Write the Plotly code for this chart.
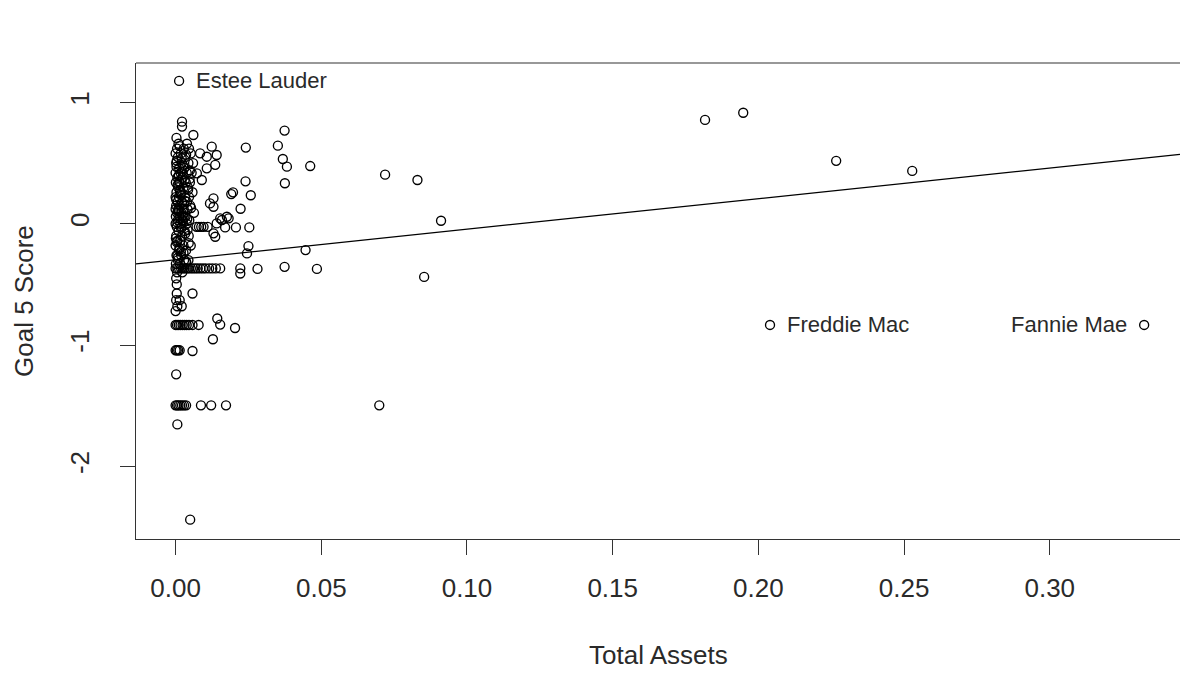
import plotly.graph_objects as go

# ---- data ----
total_assets = [
    # dense column near zero
    0.0022, 0.0022, 0.0061, 0.0003, 0.0010, 0.0039, 0.0005, 0.0028, 0.0046,
    0.0000, 0.0018, 0.0052, 0.0008, 0.0033, 0.0002, 0.0021, 0.0044, 0.0060,
    0.0012, 0.0030, 0.0000, 0.0017, 0.0038, 0.0055, 0.0006, 0.0024,
    0.0001, 0.0013, 0.0035, 0.0049, 0.0009, 0.0027, 0.0042, 0.0003, 0.0019, 0.0058,
    0.0000, 0.0011, 0.0032, 0.0046, 0.0007, 0.0022, 0.0039, 0.0002, 0.0015, 0.0050,
    0.0000, 0.0009, 0.0028, 0.0041, 0.0005, 0.0020, 0.0063, 0.0001, 0.0013, 0.0034,
    0.0008, 0.0025, 0.0047, 0.0000, 0.0016, 0.0038,
    0.0004, 0.0020, 0.0072, 0.0080, 0.0088, 0.0096, 0.0110,
    0.0010, 0.0031, 0.0002, 0.0022, 0.0045, 0.0006, 0.0016,
    0.0000, 0.0027, 0.0052, 0.0012, 0.0036, 0.0003, 0.0019,
    0.0008, 0.0029, 0.0044, 0.0001, 0.0015,
    0.0000, 0.0006, 0.0012, 0.0019, 0.0025, 0.0031, 0.0038, 0.0044, 0.0052,
    0.0060, 0.0068, 0.0076, 0.0085, 0.0094, 0.0103, 0.0115, 0.0126, 0.0138,
    0.0005, 0.0023, 0.0002, 0.0004, 0.0004, 0.0058, 0.0002, 0.0014, 0.0006, 0.0021, 0.0000,
    0.0000, 0.0005, 0.0011, 0.0017, 0.0024, 0.0031, 0.0038, 0.0046, 0.0058, 0.0079,
    0.0000, 0.0004, 0.0009, 0.0014, 0.0058,
    0.0002,
    0.0000, 0.0005, 0.0010, 0.0016, 0.0022, 0.0029, 0.0036, 0.0087, 0.0122, 0.0173,
    0.0006, 0.0050,
    # extra overlapping points inside the dense column
    0.0014, 0.0036, 0.0004, 0.0026, 0.0049, 0.0011, 0.0031, 0.0007, 0.0043, 0.0017,
    0.0002, 0.0029, 0.0053, 0.0010, 0.0024, 0.0040, 0.0006, 0.0019, 0.0033, 0.0001,
    0.0045, 0.0013, 0.0027, 0.0008, 0.0037, 0.0021, 0.0003, 0.0048, 0.0015, 0.0032,
    0.0009, 0.0025, 0.0041, 0.0004, 0.0018, 0.0035, 0.0012, 0.0028, 0.0006, 0.0022,
    # spread near the cluster
    0.0124, 0.0141, 0.0107, 0.0084, 0.0136, 0.0107, 0.0090, 0.0073,
    0.0118, 0.0130, 0.0130, 0.0176, 0.0153, 0.0141, 0.0159, 0.0130, 0.0136,
    0.0143, 0.0153, 0.0204, 0.0128,
    0.0374, 0.0241, 0.0351, 0.0368, 0.0382, 0.0462, 0.0375, 0.0719, 0.0830, 0.0911,
    0.0240, 0.0258, 0.0191, 0.0197, 0.0223, 0.0182, 0.0207, 0.0253, 0.0170,
    0.0250, 0.0245, 0.0446, 0.0374, 0.0485, 0.0281, 0.0222, 0.0222, 0.0853, 0.0153,
    # far points
    0.0012, 0.1817, 0.1948, 0.2267, 0.2528, 0.2040, 0.3324, 0.0699,
]
goal5_score = [
    0.842, 0.801, 0.732, 0.708, 0.66, 0.66, 0.62, 0.62, 0.62,
    0.58, 0.58, 0.58, 0.55, 0.55, 0.50, 0.50, 0.50, 0.50,
    0.46, 0.46, 0.42, 0.42, 0.42, 0.42, 0.38, 0.38,
    0.34, 0.34, 0.34, 0.34, 0.30, 0.30, 0.30, 0.26, 0.26, 0.26,
    0.22, 0.22, 0.22, 0.22, 0.18, 0.18, 0.18, 0.15, 0.15, 0.15,
    0.12, 0.12, 0.12, 0.12, 0.09, 0.09, 0.09, 0.06, 0.06, 0.06,
    0.03, 0.03, 0.03, 0.00, 0.00, 0.00,
    -0.025, -0.025, -0.025, -0.025, -0.025, -0.025, -0.025,
    -0.06, -0.06, -0.10, -0.10, -0.10, -0.14, -0.14,
    -0.18, -0.18, -0.18, -0.22, -0.22, -0.26, -0.26,
    -0.30, -0.30, -0.30, -0.33, -0.33,
    -0.368, -0.368, -0.368, -0.368, -0.368, -0.368, -0.368, -0.368, -0.368,
    -0.368, -0.368, -0.368, -0.368, -0.368, -0.368, -0.368, -0.368, -0.368,
    -0.40, -0.40, -0.45, -0.50, -0.575, -0.575, -0.63, -0.63, -0.68, -0.68, -0.72,
    -0.834, -0.834, -0.834, -0.834, -0.834, -0.834, -0.834, -0.834, -0.834, -0.834,
    -1.043, -1.043, -1.043, -1.043, -1.049,
    -1.241,
    -1.497, -1.497, -1.497, -1.497, -1.497, -1.497, -1.497, -1.497, -1.497, -1.497,
    -1.654, -2.439,
    0.64, 0.57, 0.52, 0.48, 0.44, 0.40, 0.36, 0.32, 0.28, 0.24,
    0.20, 0.16, 0.13, 0.10, 0.07, 0.04, 0.01, -0.04, -0.08, -0.12,
    -0.16, -0.20, -0.24, -0.28, -0.32, 0.54, 0.47, 0.37, 0.27, 0.19,
    0.11, 0.02, -0.05, -0.15, -0.23, -0.31, 0.35, 0.05, -0.26, 0.43,
    0.636, 0.567, 0.553, 0.581, 0.486, 0.457, 0.361, 0.416,
    0.168, 0.140, 0.210, 0.058, 0.045, 0.003, 0.031, -0.079, -0.107,
    -0.781, -0.831, -0.859, -0.952,
    0.768, 0.628, 0.644, 0.534, 0.471, 0.476, 0.334, 0.405, 0.361, 0.025,
    0.350, 0.235, 0.245, 0.259, 0.124, 0.045, -0.030, -0.030, -0.030,
    -0.184, -0.244, -0.217, -0.355, -0.372, -0.372, -0.368, -0.410, -0.438, -0.368,
    1.178, 0.856, 0.915, 0.519, 0.436, -0.834, -0.834, -1.497,
]

label_names = ["Estee Lauder", "Freddie Mac", "Fannie Mae"]
label_x = [0.0012, 0.2040, 0.3324]
label_y = [1.178, -0.834, -0.834]
label_side = ["right", "right", "left"]

fit_intercept = -0.297
fit_slope = 2.52

x_range = [-0.01359, 0.3447]
y_range = [-2.5986, 1.3254]
x_ticks = [0.00, 0.05, 0.10, 0.15, 0.20, 0.25, 0.30]
y_ticks = [-2, -1, 0, 1]

FONT = "Liberation Sans, Arial, sans-serif"
TXT = "#2a2a2a"

fig = go.Figure()
fig.add_trace(go.Scatter(
    x=total_assets, y=goal5_score, mode="markers",
    marker=dict(symbol="circle-open", size=9, color="black", line=dict(width=1.35, color="black")),
    hoverinfo="x+y", showlegend=False, cliponaxis=True,
))
fig.add_trace(go.Scatter(
    x=x_range, y=[fit_intercept + fit_slope * v for v in x_range],
    mode="lines", line=dict(color="black", width=1.2), showlegend=False, hoverinfo="skip",
))

for name, lx, ly, side in zip(label_names, label_x, label_y, label_side):
    fig.add_annotation(
        x=lx, y=ly, xref="x", yref="y", text=name, showarrow=False,
        xanchor="left" if side == "right" else "right", yanchor="middle",
        xshift=15 if side == "right" else -15,
        font=dict(family=FONT, size=22, color=TXT),
    )

fig.add_annotation(text="Total Assets", xref="paper", yref="paper", x=0.5, y=0,
                   yshift=-116, xanchor="center", yanchor="middle", showarrow=False,
                   font=dict(family=FONT, size=26, color=TXT))
fig.add_annotation(text="Goal 5 Score", xref="paper", yref="paper", x=0, y=0.5,
                   xshift=-112, xanchor="center", yanchor="middle", textangle=-90,
                   showarrow=False, font=dict(family=FONT, size=26, color=TXT))

# top border of the box
fig.add_shape(type="line", xref="paper", yref="paper", x0=0, x1=1, y0=1, y1=1,
              line=dict(color="#333", width=1.2))

fig.update_layout(
    width=1180, height=700,
    margin=dict(l=136, r=0, t=63, b=161, pad=0),
    paper_bgcolor="white", plot_bgcolor="white",
    font=dict(family=FONT, size=26, color=TXT),
    showlegend=False,
)
fig.update_xaxes(
    range=x_range, tickvals=x_ticks, ticktext=[f"{v:.2f}" for v in x_ticks],
    showgrid=False, zeroline=False, showline=True, linecolor="#333", linewidth=1.2,
    ticks="outside", ticklen=15, tickwidth=1, tickcolor="#333",
    ticklabelstandoff=11, tickfont=dict(size=26, color=TXT),
)
fig.update_yaxes(
    range=y_range, tickvals=y_ticks, ticktext=[str(v) for v in y_ticks],
    showgrid=False, zeroline=False, showline=True, linecolor="#333", linewidth=1.2,
    ticks="outside", ticklen=15, tickwidth=1, tickcolor="#333", tickangle=-90,
    ticklabelstandoff=21, tickfont=dict(size=26, color=TXT),
)

fig.write_html("out.html")
